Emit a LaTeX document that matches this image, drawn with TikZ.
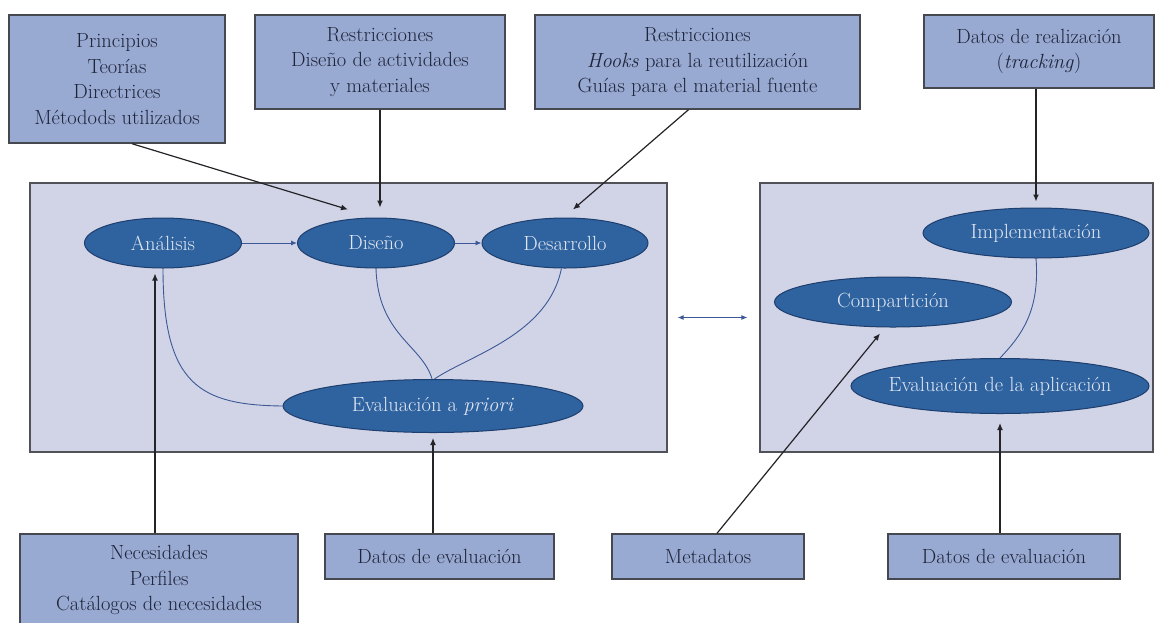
\documentclass[tikz,border=0pt]{standalone}
\usetikzlibrary{calc,arrows.meta,shapes.geometric}
\definecolor{boxfill}{RGB}{152,169,210}
\definecolor{boxline}{RGB}{70,72,80}
\definecolor{boxtext}{RGB}{30,36,58}
\definecolor{rectfill}{RGB}{209,212,230}
\definecolor{rectline}{RGB}{80,82,88}
\definecolor{ellfill}{RGB}{46,99,160}
\definecolor{ellline}{RGB}{30,62,110}
\definecolor{elltext}{RGB}{225,230,242}
\definecolor{flow}{RGB}{60,88,150}
\definecolor{conn}{RGB}{35,35,40}
\begin{document}
\begin{tikzpicture}[x=1pt,y=-1pt,
  font=\fontsize{20.5}{25.5}\selectfont,
  box/.style={draw=boxline, line width=1.4pt, fill=boxfill, text=boxtext, align=center, inner sep=0pt},
  area/.style={draw=rectline, line width=1.2pt, fill=rectfill, inner sep=0pt},
  ell/.style={ellipse, draw=ellline, line width=1pt, fill=ellfill, text=elltext, inner xsep=-14pt, inner ysep=0pt},
  conn/.style={draw=conn, line width=1.2pt, -{Latex[length=7pt,width=6pt]}},
  flowarr/.style={draw=flow, line width=0.9pt, -{Latex[length=6pt,width=5pt]}},
  flowline/.style={draw=flow, line width=0.9pt}]
\useasboundingbox[fill=white] (0,0) rectangle (1156,622);

% top boxes
\node[box, minimum width=216pt, minimum height=128pt] (b1) at (117,79)
  {Principios\\Teorías\\Directrices\\Métodods utilizados};
\node[box, minimum width=250pt, minimum height=94pt] (b2) at (380,62)
  {Restricciones\\Diseño de actividades\\y materiales};
\node[box, minimum width=325pt, minimum height=94pt] (b3) at (697.5,62)
  {Restricciones\\\textit{Hooks} para la reutilización\\Guías para el material fuente};
\node[box, minimum width=230pt, minimum height=73pt] (b4) at (1039,51.5)
  {Datos de realización\\(\textit{tracking})};

% areas
\node[area, minimum width=637pt, minimum height=269pt] (L) at (348.5,317.5) {};
\node[area, minimum width=393pt, minimum height=269pt] (R) at (956.5,317.5) {};

% ellipses left
\node[ell, minimum width=157pt, minimum height=50pt] (an) at (163,243) {Análisis};
\node[ell, minimum width=157pt, minimum height=50pt] (di) at (376,243) {Diseño};
\node[ell, minimum width=166pt, minimum height=50pt] (de) at (565,243) {Desarrollo};
\node[ell, minimum width=300pt, minimum height=53pt] (ev) at (433,406) {Evaluación a \textit{priori}};

% ellipses right
\node[ell, minimum width=226pt, minimum height=50pt] (im) at (1036,233) {Implementación};
\node[ell, minimum width=237pt, minimum height=50pt] (co) at (893,302) {Compartición};
\node[ell, minimum width=298pt, minimum height=55pt] (ea) at (1000,386) {Evaluación de la aplicación};

% bottom boxes
\node[box, minimum width=278pt, minimum height=92pt] (ne) at (159,580)
  {Necesidades\\Perfiles\\Catálogos de necesidades};
\node[box, minimum width=229pt, minimum height=45pt] (dl) at (439.5,556.5) {Datos de evaluación};
\node[box, minimum width=192pt, minimum height=45pt] (me) at (708,556.5) {Metadatos};
\node[box, minimum width=232pt, minimum height=45pt] (dr) at (1004,556.5) {Datos de evaluación};

% flow inside left area
\draw[flowarr] (an.east) -- (di.west);
\draw[flowarr] (di.east) -- (de.west);
\draw[flowline] (an.south) .. controls (163,385) and (200,405) .. (ev.west);
\draw[flowline] (di.south) .. controls (378,335) and (422,345) .. (ev.92);
\draw[flowline] (de.-98) .. controls (548,335) and (470,355) .. (ev.87);
% flow inside right area
\draw[flowline] (im.south) .. controls (1040,310) and (1022,335) .. (ea.north);
% between areas
\draw[draw=flow, line width=0.9pt, {Latex[length=6pt,width=5pt]}-{Latex[length=6pt,width=5pt]}, shorten <=10pt, shorten >=12pt] (L.east) -- (R.west);

% connectors from boxes
\draw[conn] ($(b1.south)+(15,0)$) -- ($(di.north)+(-28,-8)$);
\draw[conn, shorten >=10pt] (b2.south) -- (b2.south |- di.north);
\draw[conn] ($(b3.south)+(-9,0)$) -- ($(de.north)+(8,-8)$);
\draw[conn, shorten >=6pt] (b4.south -| im.north) -- (im.north);
\draw[conn] ($(an.south |- ne.north)+(-8,0)$) -- ($(an.south)+(-8,5)$);
\draw[conn, shorten >=5pt] (dl.north -| ev.south) -- (ev.south);
\draw[conn] ($(me.north)+(9,0)$) -- ($(co.south)+(-13,6)$);
\draw[conn, shorten >=9pt] (dr.north -| ea.south) -- (ea.south);
\end{tikzpicture}
\end{document}
